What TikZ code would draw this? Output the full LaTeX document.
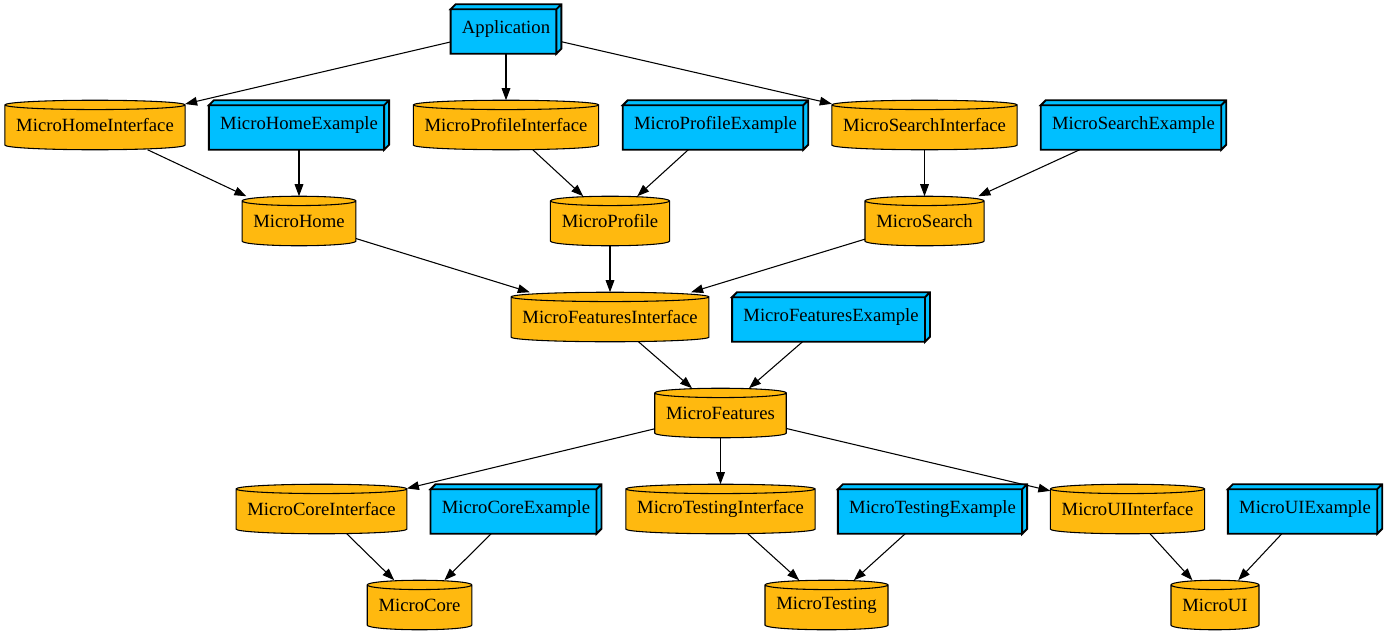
\documentclass[tikz,border=0pt]{standalone}
\usepackage{fontspec}
\setmainfont{Liberation Serif}
\usetikzlibrary{arrows.meta,calc,backgrounds}
\definecolor{exblue}{HTML}{00BFFF}
\definecolor{modorange}{HTML}{FFB90F}

\begin{document}
\begin{tikzpicture}[x=0.75pt,y=-0.75pt,>={Triangle[length=9pt,width=6.5pt]},
  font=\fontsize{14pt}{16pt}\selectfont,
  mod/.style={rectangle,inner xsep=8.3pt,inner ysep=0pt,minimum height=36.75pt},
  ex/.style={mod},
  cyl/.style={draw,fill=modorange,line width=0.8pt},
  box/.style={draw,fill=exblue,line width=1.4pt}]
  \useasboundingbox (0,0) rectangle (1387,635);

  \node[ex]  (app)       at (506,29)     {Application};
  \node[mod] (homeif)    at (95,125)     {MicroHomeInterface};
  \node[ex]  (homeex)    at (299,125)    {MicroHomeExample};
  \node[mod] (profileif) at (506,125)    {MicroProfileInterface};
  \node[ex]  (profileex) at (715.5,125)  {MicroProfileExample};
  \node[mod] (searchif)  at (924.5,125)  {MicroSearchInterface};
  \node[ex]  (searchex)  at (1133.5,125) {MicroSearchExample};
  \node[mod] (home)      at (299,221)    {MicroHome};
  \node[mod] (profile)   at (610,221)    {MicroProfile};
  \node[mod] (search)    at (924.5,221)  {MicroSearch};
  \node[mod] (featif)    at (610,317)    {MicroFeaturesInterface};
  \node[ex]  (featex)    at (831,317)    {MicroFeaturesExample};
  \node[mod] (feat)      at (720.5,413)  {MicroFeatures};
  \node[mod] (coreif)    at (321.5,509)  {MicroCoreInterface};
  \node[ex]  (coreex)    at (516,509)    {MicroCoreExample};
  \node[mod] (testif)    at (720.5,509)  {MicroTestingInterface};
  \node[ex]  (testex)    at (932.5,509)  {MicroTestingExample};
  \node[mod] (uiif)      at (1127.5,509) {MicroUIInterface};
  \node[ex]  (uiex)      at (1305,509)   {MicroUIExample};
  \node[mod] (core)      at (419.5,605)  {MicroCore};
  \node[mod] (test)      at (826.5,605)  {MicroTesting};
  \node[mod] (ui)        at (1215,605)   {MicroUI};

  \begin{scope}[on background layer]
    % cylinders
    \foreach \nd in {homeif,profileif,searchif,home,profile,search,featif,feat,coreif,testif,uiif,core,test,ui}{
      \draw[cyl] let \p1=(\nd.north west), \p2=(\nd.south east), \n1={(\x2-\x1)/2} in
        (\x1,\y1-3.5pt) -- (\x1,\y2+3.5pt) arc[start angle=180,end angle=360,x radius=\n1,y radius=3.5pt]
        -- (\x2,\y1-3.5pt) arc[start angle=0,end angle=180,x radius=\n1,y radius=3.5pt] -- cycle
        (\x1,\y1-3.5pt) arc[start angle=180,end angle=360,x radius=\n1,y radius=3.5pt];
    }
    % 3d boxes
    \foreach \nd in {app,homeex,profileex,searchex,featex,coreex,testex,uiex}{
      \draw[box] let \p1=(\nd.north west), \p2=(\nd.south east) in
        (\x1,\y1-3.75pt) rectangle (\x2-3.75pt,\y2)
        (\x1,\y1-3.75pt) -- (\x1+3.75pt,\y1) -- (\x2,\y1) -- (\x2,\y2+3.75pt) -- (\x2-3.75pt,\y2) -- (\x2-3.75pt,\y1-3.75pt) -- cycle
        (\x2-3.75pt,\y1-3.75pt) -- (\x2,\y1);
    }
  \end{scope}

  \path[->,line width=0.8pt] (app) edge (homeif)
                                   edge (profileif)
                                   edge (searchif)
        (homeif) edge (home)
        (homeex) edge (home)
        (profileif) edge (profile)
        (profileex) edge (profile)
        (searchif) edge (search)
        (searchex) edge (search)
        (home) edge (featif)
        (profile) edge (featif)
        (search) edge (featif)
        (featif) edge (feat)
        (featex) edge (feat)
        (feat) edge (coreif)
               edge (testif)
               edge (uiif)
        (coreif) edge (core)
        (coreex) edge (core)
        (testif) edge (test)
        (testex) edge (test)
        (uiif) edge (ui)
        (uiex) edge (ui);
\end{tikzpicture}
\end{document}
